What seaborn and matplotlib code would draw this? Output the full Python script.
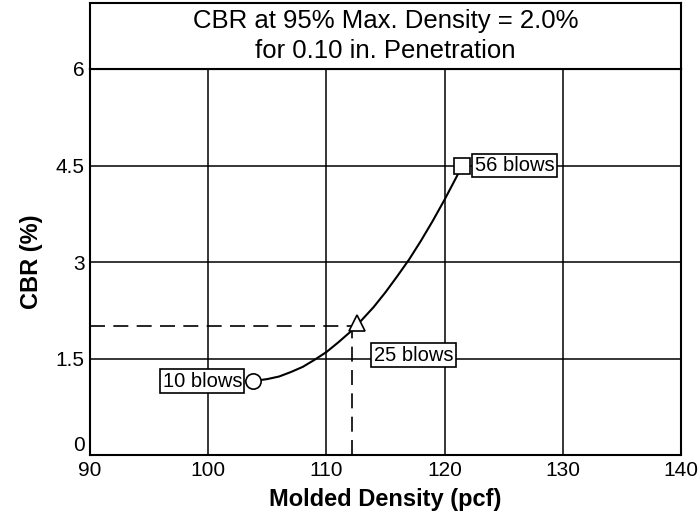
import numpy as np
import pandas as pd
import matplotlib
matplotlib.use("Agg")
import matplotlib.pyplot as plt
import seaborn as sns

# compaction points: molded density (pcf) vs CBR (%)
blows = ["10 blows", "25 blows", "56 blows"]
density = [103.8, 112.6, 121.5]
cbr = [1.15, 2.05, 4.5]
point_markers = ["o", "^", "s"]

# smooth curve through the three points
curve_density = [103.8, 105, 106, 107, 108, 109, 110, 111, 112, 113, 114, 115,
                 116, 117, 118, 119, 120, 121, 121.5]
curve_cbr = [1.15, 1.18, 1.22, 1.29, 1.37, 1.48, 1.60, 1.75, 1.91, 2.10, 2.30,
             2.53, 2.78, 3.04, 3.33, 3.64, 3.97, 4.32, 4.5]

# 95% max density reading
target_density = 112.2
target_cbr = 2.0

x_ticks = [90, 100, 110, 120, 130, 140]
y_ticks = [0, 1.5, 3, 4.5, 6]
y_tick_labels = ["0", "1.5", "3", "4.5", "6"]

title_lines = ["CBR at 95% Max. Density = 2.0%", "for 0.10 in. Penetration"]

points = pd.DataFrame({"density": density, "cbr": cbr, "blows": blows})
curve = pd.DataFrame({"density": curve_density, "cbr": curve_cbr})

sns.set_theme(style="white")
plt.rcParams["font.family"] = ["Liberation Sans", "DejaVu Sans"]
plt.rcParams["text.color"] = "black"
plt.rcParams["axes.labelcolor"] = "black"

fig = plt.figure(figsize=(6.99, 5.16), dpi=100)
left, width = 90 / 699, 591 / 699
ax = fig.add_axes([left, 61 / 516, width, 386 / 516])
ax_t = fig.add_axes([left, 447 / 516, width, 66 / 516])

# title box above the plot
ax_t.set_xticks([])
ax_t.set_yticks([])
for sp in ax_t.spines.values():
    sp.set_color("black")
    sp.set_linewidth(1.5)
ax_t.text(0.5, 0.5, "\n".join(title_lines), ha="center", va="center",
          fontsize=18.5, linespacing=1.3, transform=ax_t.transAxes)

# grid
for x in x_ticks[1:-1]:
    ax.axvline(x, color="black", lw=1.1, zorder=1)
for y in y_ticks[1:-1]:
    ax.axhline(y, color="black", lw=1.1, zorder=1)

# dashed reading lines
ax.plot([x_ticks[0], target_density], [target_cbr, target_cbr], color="black",
        lw=1.2, ls=(0, (9, 5)), zorder=2)
ax.plot([target_density, target_density], [0, target_cbr], color="black",
        lw=1.2, ls=(0, (9, 5)), zorder=2)

sns.lineplot(data=curve, x="density", y="cbr", color="black", lw=1.5,
             ax=ax, zorder=3, sort=True)

sizes = {"o": 11, "^": 12, "s": 12}
for (_, row), m in zip(points.iterrows(), point_markers):
    ax.plot(row["density"], row["cbr"], marker=m, ms=sizes[m], mfc="white",
            mec="black", mew=1.2, ls="none", zorder=4)

box = dict(boxstyle="square,pad=0.12", fc="white", ec="black", lw=1.2)
offsets = [(-8, 0, "right"), (12, -23, "left"), (9, 0, "left")]
for (_, row), (dx, dy, ha) in zip(points.iterrows(), offsets):
    ax.annotate(row["blows"], (row["density"], row["cbr"]), xytext=(dx, dy),
                textcoords="offset points", ha=ha, va="center", fontsize=14.5,
                bbox=box, zorder=5)

ax.set_xlim(x_ticks[0], x_ticks[-1])
ax.set_ylim(y_ticks[0], y_ticks[-1])
ax.set_xticks(x_ticks)
ax.set_yticks(y_ticks)
ax.set_yticklabels(y_tick_labels)
ax.tick_params(length=0, labelsize=15, colors="black", pad=4)
ax.get_yticklabels()[0].set_va("bottom")
for sp in ax.spines.values():
    sp.set_color("black")
    sp.set_linewidth(1.5)

ax.set_xlabel("Molded Density (pcf)", fontsize=17, fontweight="bold", labelpad=6)
ax.set_ylabel("CBR (%)", fontsize=17, fontweight="bold", labelpad=9)

fig.savefig("out.png", dpi=100)
